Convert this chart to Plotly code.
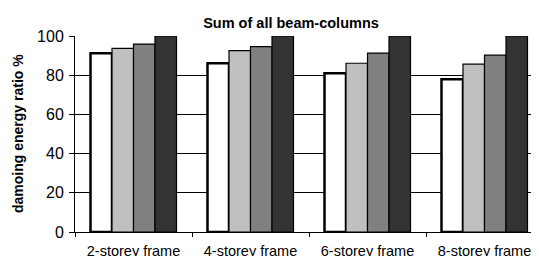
import plotly.graph_objects as go

categories = ["2-storey frame", "4-storey frame", "6-storey frame", "8-storey frame"]
series_a = [91.2, 86.1, 81.0, 77.9]
series_b = [93.7, 92.5, 86.1, 85.6]
series_c = [95.9, 94.6, 91.3, 90.2]
series_d = [100, 100, 100, 100]
y_ticks = [0, 20, 40, 60, 80, 100]

colors = ["#FFFFFF", "#C0C0C0", "#808080", "#333333"]
line_widths = [2.5, 1.2, 1.2, 1.2]

fig = go.Figure()
for vals, c, lw in zip([series_a, series_b, series_c, series_d], colors, line_widths):
    fig.add_trace(go.Bar(x=categories, y=vals, marker=dict(color=c, line=dict(color="#000000", width=lw)),
                         showlegend=False))

# page body has an 8px margin; the figure is sized/offset to compensate
OFF = 8
W, H = 539 - OFF, 256 - OFF
ml, mt, mb = 75 - OFF, 36 - OFF, 24
pw = W - ml
fig.update_layout(
    width=W, height=H,
    margin=dict(l=ml, r=0, t=mt, b=mb, autoexpand=False),
    paper_bgcolor="white", plot_bgcolor="white",
    barmode="group", bargap=0.265, bargroupgap=0,
    font=dict(family="Liberation Sans, Arial, sans-serif", color="#000000"),
    title=dict(text="<b>Sum of all beam-columns</b>", x=(291 - OFF) / W, xanchor="center",
               y=1 - (23 - OFF) / H, yanchor="middle", yref="container",
               font=dict(size=14.5, family="Liberation Sans, Arial, sans-serif")),
    xaxis=dict(range=[-0.5, 3.5 - 4 / 117], showline=True, linecolor="#000000", linewidth=1,
               ticks="outside", tickson="boundaries", ticklen=4, tickcolor="#000000",
               tickfont=dict(size=14.5), ticklabelstandoff=6, showgrid=False),
    yaxis=dict(range=[0, 100], tickvals=y_ticks, showline=True, linecolor="#000000", linewidth=1,
               ticks="outside", ticklen=5, tickcolor="#000000", tickfont=dict(size=16),
               ticklabelstandoff=2,
               showgrid=True, gridcolor="#000000", gridwidth=1, zeroline=False),
    annotations=[dict(text="<b>damoing energy ratio %</b>", xref="paper", yref="paper",
                      x=(18 - 75) / pw, y=0.5, xanchor="center", yanchor="middle",
                      textangle=-90, showarrow=False, font=dict(size=14))],
)

fig.write_html("out.html")
